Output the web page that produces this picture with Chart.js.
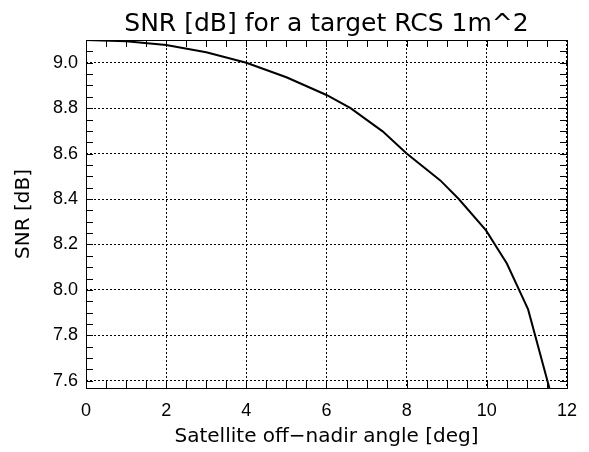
<!DOCTYPE html>
<html>
<head>
<meta charset="utf-8">
<script src="https://cdn.jsdelivr.net/npm/chart.js@4/dist/chart.umd.min.js"></script>
<style>
  html, body { margin: 0; padding: 0; background: #fff; }
  #wrap { width: 589px; height: 452px; }
</style>
</head>
<body>
<div id="wrap"><canvas id="grafico" width="589" height="452"></canvas></div>
<script>
// off-nadir angle [deg] and SNR [dB]
var angulos = [0, 1, 2, 3, 4, 5, 6, 6.6, 7.4, 8, 8.84, 9.3, 9.98, 10.5, 11.03, 11.56];
var snr = [9.100, 9.094, 9.078, 9.046, 9.000, 8.936, 8.858, 8.800, 8.698, 8.600, 8.482, 8.400, 8.262, 8.116, 7.914, 7.568];

var ticksX = [0, 2, 4, 6, 8, 10, 12];
var ticksY = [7.6, 7.8, 8.0, 8.2, 8.4, 8.6, 8.8, 9.0];
var limX = [0, 12];
var limY = [7.568, 9.1];
var passoMenorX = 0.5;
var passoMenorY = 0.05;

var titulo = 'SNR [dB] for a target RCS 1m^2';
var tituloX = 'Satellite off\u2212nadir angle [deg]';
var tituloY = 'SNR [dB]';

// moldura e tracinhos menores (estilo IDL, para dentro)
const moldura = {
    id: 'moldura',
    afterDraw(chart) {
        const ctx = chart.ctx;
        const a = chart.chartArea;
        const sx = chart.scales.x, sy = chart.scales.y;
        ctx.save();
        ctx.strokeStyle = '#000';
        ctx.lineWidth = 1;
        ctx.beginPath();
        for (let v = limX[0]; v <= limX[1] + 1e-9; v += passoMenorX) {
            const px = Math.round(sx.getPixelForValue(v)) + 0.5;
            ctx.moveTo(px, a.bottom); ctx.lineTo(px, a.bottom - 7);
            ctx.moveTo(px, a.top); ctx.lineTo(px, a.top + 7);
        }
        for (let v = 7.6; v <= limY[1] + 1e-9; v += passoMenorY) {
            const py = Math.round(sy.getPixelForValue(v)) + 0.5;
            ctx.moveTo(a.left, py); ctx.lineTo(a.left + 7, py);
            ctx.moveTo(a.right, py); ctx.lineTo(a.right - 7, py);
        }
        ctx.stroke();
        ctx.strokeRect(Math.round(a.left) + 0.5, Math.round(a.top) + 0.5,
                       Math.round(a.right - a.left), Math.round(a.bottom - a.top));
        ctx.restore();
    }
};

const campo = document.getElementById('grafico');
new Chart(campo, {
    type: 'line',
    data: {
        datasets: [{
            data: angulos.map((x, i) => ({ x: x, y: snr[i] })),
            borderColor: '#000',
            borderWidth: 2,
            pointRadius: 0,
            fill: false,
            tension: 0
        }]
    },
    options: {
        responsive: false,
        animation: false,
        devicePixelRatio: 1,
        layout: { padding: { left: 0, right: 11, top: 0, bottom: 0 } },
        plugins: {
            legend: { display: false },
            tooltip: { enabled: false },
            title: {
                display: true,
                text: titulo,
                fullSize: false,
                color: '#000',
                font: { family: 'DejaVu Sans', size: 25, weight: 'normal' },
                padding: { top: 9, bottom: 1 }
            }
        },
        scales: {
            x: {
                type: 'linear',
                min: limX[0],
                max: limX[1],
                afterBuildTicks: s => { s.ticks = ticksX.map(v => ({ value: v })); },
                afterFit: s => { s.height = 64; },
                grid: { color: '#000', lineWidth: 1, drawTicks: false },
                border: { display: false, dash: [2, 2] },
                ticks: {
                    color: '#000',
                    padding: 12,
                    maxRotation: 0,
                    font: { family: 'Liberation Sans', size: 18 }
                },
                title: {
                    display: true,
                    text: tituloX,
                    color: '#000',
                    font: { family: 'DejaVu Sans', size: 20 },
                    padding: { top: 0, bottom: 3 }
                }
            },
            y: {
                type: 'linear',
                min: limY[0],
                max: limY[1],
                afterBuildTicks: s => { s.ticks = ticksY.map(v => ({ value: v })); },
                afterFit: s => { s.width = 86; },
                grid: { color: '#000', lineWidth: 1, drawTicks: false },
                border: { display: false, dash: [2, 2] },
                ticks: {
                    color: '#000',
                    padding: 8,
                    font: { family: 'Liberation Sans', size: 18 },
                    callback: v => v.toFixed(1)
                },
                title: {
                    display: true,
                    text: tituloY,
                    color: '#000',
                    font: { family: 'DejaVu Sans', size: 20 },
                    padding: { top: 12, bottom: 0 }
                }
            }
        }
    },
    plugins: [moldura]
});
</script>
</body>
</html>
